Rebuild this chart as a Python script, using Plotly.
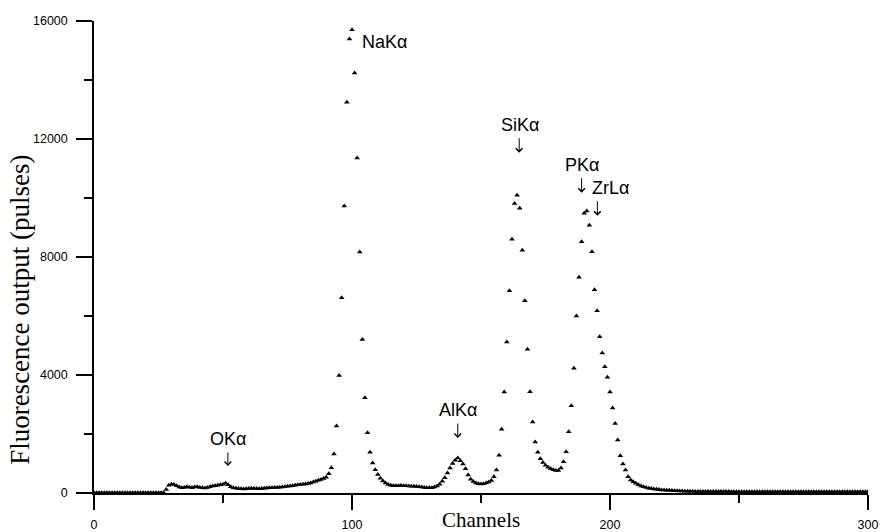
import plotly.graph_objects as go

# ---------------- data ----------------
channels = list(range(0, 301))

counts_0_27 = [10, 10, 10, 10, 10, 10, 10, 10, 10, 10,
               10, 10, 10, 10, 10, 10, 10, 10, 10, 10,
               10, 10, 10, 10, 10, 10, 10, 10]
counts_28_99 = [120, 260, 300, 290, 250, 200, 175, 190, 215, 195,
                175, 200, 215, 190, 180, 170, 185, 215, 235, 250,
                265, 280, 300, 330, 280, 210, 175, 160, 150, 140,
                135, 140, 150, 160, 155, 150, 145, 155, 165, 170,
                175, 180, 185, 190, 195, 205, 215, 225, 240, 250,
                265, 280, 290, 300, 305, 320, 340, 370, 400, 430,
                460, 490, 530, 650, 860, 1320, 2270, 3980, 6620, 9730,
                13250, 15390]
counts_100_199 = [15700, 14240, 11360, 8170, 5200, 3230, 2040, 1380, 1020, 790,
                  630, 500, 410, 340, 290, 260, 250, 245, 250, 255,
                  250, 245, 240, 230, 225, 220, 210, 200, 190, 180,
                  175, 180, 200, 240, 300, 400, 520, 680, 850, 1000,
                  1110, 1190, 1090, 980, 820, 610, 470, 390, 340, 315,
                  305, 315, 340, 370, 420, 550, 780, 1280, 2160, 3420,
                  5120, 6860, 8600, 9810, 10090, 9650, 8230, 6520, 4870, 3430,
                  2410, 1730, 1380, 1160, 1030, 940, 870, 825, 790, 760,
                  760, 850, 1060, 1400, 2080, 2960, 4230, 6000, 7310, 8520,
                  9480, 9560, 9080, 8180, 6890, 6180, 5300, 4750, 4280, 3920]
counts_200_300 = [3420, 2880, 2360, 1800, 1260, 980, 780, 550, 440, 380,
                  330, 280, 240, 210, 185, 165, 150, 135, 125, 115,
                  105, 100, 95, 90, 85, 80, 75, 70, 66, 62,
                  60, 58, 56, 55, 54, 53, 52, 52, 51, 50,
                  50, 49, 49, 48, 48, 47, 47, 46, 46, 46,
                  45, 45, 45, 44, 44, 44, 44, 43, 43, 43,
                  43, 42, 42, 42, 42, 42, 41, 41, 41, 41,
                  41, 41, 40, 40, 40, 40, 40, 40, 40, 40,
                  40, 40, 40, 40, 40, 40, 40, 40, 40, 40,
                  40, 40, 40, 40, 40, 40, 40, 40, 40, 40,
                  40]
counts = counts_0_27 + counts_28_99 + counts_100_199 + counts_200_300

x_ticks = [0, 100, 200, 300]
y_ticks = [0, 4000, 8000, 12000, 16000]

peak_labels = ["NaKα", "OKα", "AlKα", "SiKα", "PKα", "ZrLα"]

# ---------------- figure ----------------
fig = go.Figure()
fig.add_trace(go.Scatter(
    x=channels, y=counts, mode="markers",
    marker=dict(symbol="triangle-up", size=5, color="black", line=dict(width=0)),
    showlegend=False, hoverinfo="skip"))

sans = "Arial, Liberation Sans, sans-serif"
serif = "Times New Roman, Liberation Serif, serif"

fig.update_layout(
    width=880, height=532,
    margin=dict(l=94, r=12, t=21, b=39, autoexpand=False),
    paper_bgcolor="white", plot_bgcolor="white",
    showlegend=False,
    xaxis=dict(range=[0, 300], tickvals=x_ticks, ticktext=[str(v) for v in x_ticks],
               automargin=False,
               showgrid=False, zeroline=False, showline=True, linecolor="black", linewidth=1.5,
               ticks="outside", ticklen=15, tickwidth=1.5, tickcolor="black",
               tickfont=dict(family=sans, size=12.5, color="black"),
               ticklabelstandoff=4,
               minor=dict(tickvals=[50, 150, 250], ticks="outside", ticklen=8,
                          tickwidth=1.5, tickcolor="black"),
               fixedrange=True),
    yaxis=dict(range=[0, 16000], tickvals=y_ticks, ticktext=[str(v) for v in y_ticks],
               automargin=False,
               showgrid=False, zeroline=False, showline=True, linecolor="black", linewidth=1.5,
               ticks="outside", ticklen=16, tickwidth=1.5, tickcolor="black",
               tickfont=dict(family=sans, size=12.5, color="black"),
               ticklabelstandoff=6,
               minor=dict(tickvals=[2000, 6000, 10000, 14000], ticks="outside", ticklen=8,
                          tickwidth=1.5, tickcolor="black"),
               fixedrange=True),
)

# axis titles
fig.add_annotation(text="Channels", xref="paper", yref="paper", x=0.5, y=-0.057,
                   xanchor="center", yanchor="middle", showarrow=False,
                   font=dict(family=serif, size=21, color="black"))
fig.add_annotation(text="Fluorescence output (pulses)", xref="paper", yref="paper",
                   x=-0.0956, y=0.388, xanchor="center", yanchor="middle", textangle=-90,
                   showarrow=False, font=dict(family=serif, size=27, color="black"))

# peak labels (data coordinates)
label_pos = [(112.6, 15290), (51.9, 1830), (140.9, 2810), (165.1, 12470), (189.0, 11120), (200.0, 10340)]
# arrow tips (data coordinates) and shaft length in px
arrow_tips = [None, (51.9, 915, 15), (141.0, 1864, 16), (164.8, 11536, 16), (189.0, 10180, 16), (195.1, 9400, 16)]
for name, lp, tip in zip(peak_labels, label_pos, arrow_tips):
    fig.add_annotation(text=name, x=lp[0], y=lp[1], xref="x", yref="y", showarrow=False,
                       xanchor="center", yanchor="middle",
                       font=dict(family=sans, size=18, color="black"))
    if tip is not None:
        fig.add_annotation(text="", x=tip[0], y=tip[1], xref="x", yref="y",
                           showarrow=True, arrowhead=4, arrowsize=1.3, arrowwidth=1,
                           arrowcolor="black", ax=0, ay=-tip[2], standoff=0, startstandoff=0)

fig.write_html("out.html")
